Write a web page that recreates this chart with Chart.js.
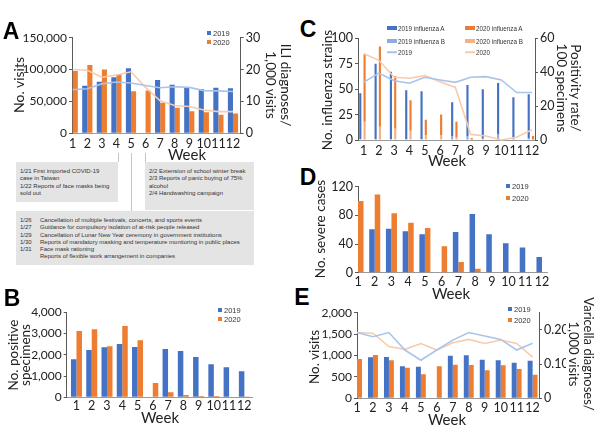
<!DOCTYPE html>
<html><head><meta charset="utf-8">
<script src="https://cdn.jsdelivr.net/npm/chart.js@4/dist/chart.umd.min.js"></script>
<style>
body{margin:0;width:600px;height:433px;position:relative;background:#fff;overflow:hidden;font-family:Lato,sans-serif;color:#222}
.t{position:absolute;white-space:nowrap;transform:translate(-50%,-50%);text-align:center}
.let{position:absolute;font-family:"Liberation Sans",Arial,sans-serif;font-weight:bold;font-size:23px;color:#000;transform:translate(-50%,-50%)}
.lg{position:absolute;font-family:"Liberation Sans",Arial,sans-serif;font-size:7.5px;color:#333;white-space:nowrap;line-height:9px}
.sq{display:inline-block;width:4px;height:4px;margin-right:2px;vertical-align:1px}
.ci{position:absolute;font-family:"Liberation Sans",Arial,sans-serif;font-size:6.3px;color:#333;white-space:nowrap;transform:translateY(-50%)}
.sw{position:absolute;transform:translateY(-50%)}
.bx{position:absolute;background:#e4e4e4;font-family:"Liberation Sans",Arial,sans-serif;font-size:6px;line-height:7.3px;color:#333;box-sizing:border-box;white-space:nowrap}
.vl{position:absolute;width:1px;background:#c4c4c4}
.d{display:inline-block;width:20px}
</style></head><body>
<script>
// ---------- DATA ----------
const weeks = [1,2,3,4,5,6,7,8,9,10,11,12];
// Panel A: outpatient visits and ILI rate
const aVisits2019 = [null,74700,81000,88000,102000,null,83600,76000,72000,69500,71600,70500];
const aVisits2020 = [97700,107000,100000,92500,66000,67000,48000,40000,34500,33000,29000,31000];
const aIli2019 = [13.7,14.0,15.5,16.1,15.8,15.0,14.3,14.6,14.4,13.4,13.3,13.1];
const aIli2020 = [20.0,19.8,17.6,18.3,19.3,14.4,10.2,8.7,8.4,7.3,6.8,6.8];
// Panel B: positive specimens
const bPos2019 = [1790,2230,2350,2510,2370,null,2275,2180,1900,1555,1420,1225];
const bPos2020 = [3120,3200,2400,3357,2683,675,235,110,63,63,30,15];
// Panel C: influenza strains and positivity rate
const c2019A = [45,74,66,48,47,null,33,50,48,50,39,43];
const c2019B = [1,1,1,1,1,null,4,4,2,6,3,2];
const c2020A = [66,79,52,30,15,20,15,2,0,0,0,4];
const c2020B = [18,13,11,9,5,5,3,0,0,0,0,0];
const cRate2019 = [34,39.5,35,33.5,37,35.4,34,37,37.4,35.4,28,28];
const cRate2020 = [51,47,37,36.4,38,34.4,31,3.3,2.4,0,1.6,6];
// Panel D: severe cases
const dSevere2019 = [null,60.5,61.4,58,53.5,null,56.7,81.8,53.5,41,35.3,22];
const dSevere2020 = [100,109,82.8,69.8,62.3,37,15,5.6,0,0,0,0];
// Panel E: varicella visits and rate
const eVisits2019 = [null,957,965,747,739,null,996,1004,902,887,833,879];
const eVisits2020 = [918,1011,887,716,560,747,786,778,654,770,685,552];
const eRate2019 = [0.192,0.180,0.192,0.141,0.111,0.141,0.170,0.192,0.182,0.172,0.141,0.161];
const eRate2020 = [0.192,0.190,0.151,0.143,0.160,0.141,0.162,0.172,0.160,0.170,0.160,0.120];

// ---------- STYLE ----------
const FONT = 'Lato, sans-serif';
const BLUE = '#4472C4', ORANGE = '#ED7D31', LBLUE = '#8FAADC', LORANGE = '#F4B183';
const LINEB = '#A9C4EB', LINEO = '#F8CBAD';
const TXT = '#222';

const pts = arr => weeks.map((w,i)=>({x:w, y:arr[i]}));

function bar(label, arr, color, extra) {
  return Object.assign({type:'bar', label, data:pts(arr), backgroundColor:color, borderWidth:0, clip:0, yAxisID:'y', order:2}, extra||{});
}
function line(label, arr, color) {
  return {type:'line', label, data:pts(arr), borderColor:color, backgroundColor:color, borderWidth:1.6, pointRadius:0, tension:0, yAxisID:'y2', order:1, clip:false};
}

function panel(box, area, xo, datasets, yl, yr) {
  const div = document.createElement('div');
  div.style.cssText = `position:absolute;left:${box.l}px;top:${box.t}px;width:${box.r-box.l}px;height:${box.b-box.t}px`;
  const cv = document.createElement('canvas');
  div.appendChild(cv); document.body.appendChild(div);
  const scales = {
    x: {type:'linear', min:xo.min, max:xo.max, offset:false, stacked:false,
        grid:{display:false, drawTicks:false, offset:false},
        border:{display:true, color:'#9a9a9a', width:1},
        ticks:{autoSkip:false, maxRotation:0, padding:xo.pad, font:{size:xo.fs, family:FONT}, color:TXT},
        afterBuildTicks: s => { s.ticks = weeks.map(v => ({value:v})); },
        afterFit: s => { s.height = box.b - area.b; }},
    y: {type:'linear', position:'left', min:yl.min, max:yl.max, stacked:!!yl.stacked,
        grid:{display:true, drawOnChartArea:false, drawTicks:true, tickLength:3, color:'#595959'},
        border:{display:true, color:'#595959', width:1},
        ticks:{stepSize:yl.step, padding:2, font:{size:yl.fs, family:FONT}, color:TXT},
        afterFit: s => { s.width = area.l - box.l; }}
  };
  if (yr) {
    scales.y2 = {type:'linear', position:'right', min:yr.min, max:yr.max,
        grid:{display:true, drawOnChartArea:false, drawTicks:true, tickLength:3, color:'#595959'},
        border:{display:true, color:'#595959', width:1},
        ticks:{stepSize:yr.step, padding:2, font:{size:yr.fs, family:FONT}, color:TXT},
        afterFit: s => { s.width = box.r - area.r; }};
  }
  new Chart(cv, {
    data:{datasets},
    options:{
      responsive:true, maintainAspectRatio:false, animation:false,
      layout:{padding:{left:0, top:area.t - box.t, right: yr ? 0 : box.r - area.r, bottom:0}},
      plugins:{legend:{display:false}, tooltip:{enabled:false}},
      scales
    }
  });
}

// Panel A
panel({l:10,t:25,r:266,b:152},{l:72,t:37.7,r:240.7,b:133.3},{min:0.95,max:12.53,fs:12.5,pad:3},
  [bar('2019',aVisits2019,BLUE,{categoryPercentage:0.7,barPercentage:1}),
   bar('2020',aVisits2020,ORANGE,{categoryPercentage:0.7,barPercentage:1}),
   line('2019',aIli2019,LINEB), line('2020',aIli2020,LINEO)],
  {min:0,max:150000,step:50000,fs:12},{min:0,max:30,step:5,fs:12.5});

// Panel B
panel({l:5,t:300,r:262,b:416},{l:66.7,t:312.3,r:252,b:397.3},{min:0.36,max:12.5,fs:12.5,pad:1},
  [bar('2019',bPos2019,BLUE,{categoryPercentage:0.72,barPercentage:1}),
   bar('2020',bPos2020,ORANGE,{categoryPercentage:0.72,barPercentage:1})],
  {min:0,max:4000,step:1000,fs:12}, null);

// Panel C
panel({l:330,t:25,r:560,b:158},{l:358,t:38.3,r:535,b:140},{min:0.64,max:12.2,fs:12.5,pad:3},
  [bar('2019 influenza B',c2019B,LBLUE,{stack:'s2019',categoryPercentage:0.56,barPercentage:1}),
   bar('2019 influenza A',c2019A,BLUE,{stack:'s2019',categoryPercentage:0.56,barPercentage:1}),
   bar('2020 influenza B',c2020B,LORANGE,{stack:'s2020',categoryPercentage:0.56,barPercentage:1}),
   bar('2020 influenza A',c2020A,ORANGE,{stack:'s2020',categoryPercentage:0.56,barPercentage:1}),
   line('2019',cRate2019,LINEB), line('2020',cRate2020,LINEO)],
  {min:0,max:100,step:25,fs:12.5,stacked:true},{min:0,max:60,step:10,fs:12.5});

// Panel D
panel({l:330,t:175,r:560,b:292},{l:358,t:186.7,r:547,b:272.7},{min:1,max:12.3,fs:12.5,pad:2},
  [bar('2019',dSevere2019,BLUE,{categoryPercentage:0.66,barPercentage:1}),
   bar('2020',dSevere2020,ORANGE,{categoryPercentage:0.66,barPercentage:1})],
  {min:0,max:120,step:40,fs:12.5}, null);

// Panel E
panel({l:318,t:300,r:566,b:416},{l:357,t:312.7,r:539,b:398.3},{min:1,max:12.4,fs:12.5,pad:2},
  [bar('2019',eVisits2019,BLUE,{categoryPercentage:0.62,barPercentage:1}),
   bar('2020',eVisits2020,ORANGE,{categoryPercentage:0.62,barPercentage:1}),
   line('2019',eRate2019,LINEB), line('2020',eRate2020,LINEO)],
  {min:0,max:2000,step:500,fs:12},{min:0,max:0.25,step:0.05,fs:12.5});
</script>

<!-- panel letters -->
<div class="let" style="left:11px;top:31px">A</div>
<div class="let" style="left:12px;top:298px">B</div>
<div class="let" style="left:308px;top:29px">C</div>
<div class="let" style="left:308px;top:177px">D</div>
<div class="let" style="left:302px;top:297px">E</div>

<!-- axis titles -->
<div class="t" style="left:18px;top:85px;font-size:14px;transform:translate(-50%,-50%) rotate(-90deg)">No. visits</div>
<div class="t" style="left:278px;top:85px;font-size:13.5px;line-height:15px;transform:translate(-50%,-50%) rotate(90deg)">ILI diagnoses/<br>1,000 visits</div>
<div class="t" style="left:187px;top:154px;font-size:15px">Week</div>

<div class="t" style="left:19px;top:355px;font-size:13.5px;line-height:12px;transform:translate(-50%,-50%) rotate(-90deg)">No. positive<br>specimens</div>
<div class="t" style="left:160px;top:417px;font-size:15px">Week</div>

<div class="t" style="left:327px;top:90px;font-size:13.5px;transform:translate(-50%,-50%) rotate(-90deg)">No. influenza strains</div>
<div class="t" style="left:569px;top:88px;font-size:13.5px;line-height:14px;transform:translate(-50%,-50%) rotate(90deg)">Positivity rate/<br>100 specimens</div>
<div class="t" style="left:447px;top:160px;font-size:15px">Week</div>

<div class="t" style="left:320px;top:229px;font-size:13.5px;transform:translate(-50%,-50%) rotate(-90deg)">No. severe cases</div>
<div class="t" style="left:451px;top:293px;font-size:15px">Week</div>

<div class="t" style="left:314px;top:357px;font-size:13.5px;transform:translate(-50%,-50%) rotate(-90deg)">No. visits</div>
<div class="t" style="left:581px;top:354px;font-size:13px;line-height:15px;transform:translate(-50%,-50%) rotate(90deg)">Varicella diagnoses/<br>1,000 visits</div>
<div class="t" style="left:447px;top:419px;font-size:15px">Week</div>

<!-- legends -->
<div class="lg" style="left:207px;top:29px"><span class="sq" style="background:#4472C4"></span>2019<br><span class="sq" style="background:#ED7D31"></span>2020</div>
<div class="lg" style="left:218px;top:306px"><span class="sq" style="background:#4472C4"></span>2019<br><span class="sq" style="background:#ED7D31"></span>2020</div>
<div class="lg" style="left:506px;top:181px;line-height:12px"><span class="sq" style="background:#4472C4"></span>2019<br><span class="sq" style="background:#ED7D31"></span>2020</div>
<div class="lg" style="left:508px;top:304px;line-height:11px"><span class="sq" style="background:#4472C4"></span>2019<br><span class="sq" style="background:#ED7D31"></span>2020</div>

<!-- panel C legend -->
<div class="sw" style="left:387px;top:28px;width:10px;height:4px;background:#4472C4"></div><div class="ci" style="left:398px;top:28px">2019 influenza A</div>
<div class="sw" style="left:465px;top:28px;width:10px;height:4px;background:#ED7D31"></div><div class="ci" style="left:476px;top:28px">2020 influenza A</div>
<div class="sw" style="left:387px;top:40.5px;width:10px;height:4px;background:#8FAADC"></div><div class="ci" style="left:398px;top:40.5px">2019 influenza B</div>
<div class="sw" style="left:465px;top:40.5px;width:10px;height:4px;background:#F4B183"></div><div class="ci" style="left:476px;top:40.5px">2020 influenza B</div>
<div class="sw" style="left:387px;top:52px;width:10px;height:1.5px;background:#A9C4EB"></div><div class="ci" style="left:398px;top:52px">2019</div>
<div class="sw" style="left:465px;top:52px;width:10px;height:1.5px;background:#F8CBAD"></div><div class="ci" style="left:476px;top:52px">2020</div>

<!-- annotation connectors and boxes -->
<div class="vl" style="left:118px;top:153px;height:9px"></div>
<div class="vl" style="left:131px;top:153px;height:58px"></div>
<div class="vl" style="left:145px;top:153px;height:9px"></div>
<div class="bx" style="left:16px;top:162px;width:102px;height:40px;padding:6px 0 0 4px">1/21 First imported COVID-19<br>case in Taiwan<br>1/22 Reports of face masks being<br>sold out</div>
<div class="bx" style="left:145px;top:162px;width:109px;height:48px;padding:6px 0 0 4px">2/2 Extension of school winter break<br>2/3 Reports of panic buying of 75%<br>alcohol<br>2/4 Handwashing campaign</div>
<div class="bx" style="left:16px;top:211px;width:238px;height:54px;padding:6px 0 0 4px">
<span class="d">1/26</span>Cancellation of multiple festivals, concerts, and sports events<br>
<span class="d">1/27</span>Guidance for compulsory isolation of at-risk people released<br>
<span class="d">1/29</span>Cancellation of Lunar New Year ceremony in government institutions<br>
<span class="d">1/30</span>Reports of mandatory masking and temperature monitoring in public places<br>
<span class="d">1/31</span>Face mask rationing<br>
<span class="d"></span>Reports of flexible work arrangement in companies</div>
</body></html>
